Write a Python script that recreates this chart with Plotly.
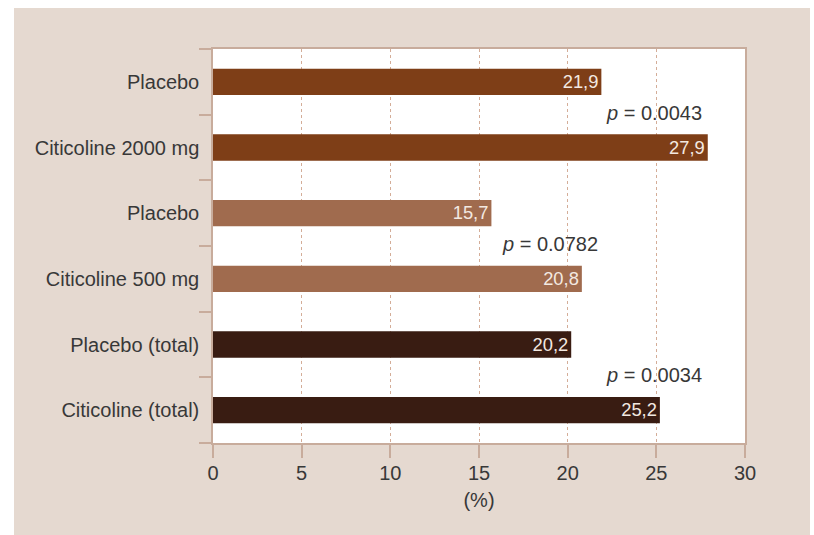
import plotly.graph_objects as go

# Responder rates (%) per treatment arm
labels = ["Placebo", "Citicoline 2000 mg", "Placebo", "Citicoline 500 mg",
          "Placebo (total)", "Citicoline (total)"]
values = [21.9, 27.9, 15.7, 20.8, 20.2, 25.2]
bar_colors = ["#7e3e17", "#7e3e17", "#a06b4e", "#a06b4e", "#391c12", "#391c12"]

# p-values between each pair of arms
p_values = ["0.0043", "0.0782", "0.0034"]
p_x = [24.85, 19.0, 24.85]

x_ticks = [0, 5, 10, 15, 20, 25, 30]

BEIGE = "#e5d9d0"
AXIS = "#c8ac9c"
TEXT = "#383838"
FONT = "Liberation Sans"
FS = 20

positions = list(range(len(labels)))
bar_text = [f"{v:.1f}".replace(".", ",") for v in values]

fig = go.Figure()
fig.add_trace(go.Bar(
    x=values, y=positions, orientation="h", width=0.4,
    marker=dict(color=bar_colors, line=dict(width=0)),
    text=bar_text, textposition="inside", insidetextanchor="end",
    textfont=dict(family=FONT, size=19, color="#f3e9e1"),
    cliponaxis=False, hoverinfo="skip", showlegend=False,
))
# invisible trace that carries the boundary ticks on the overlaid axis
fig.add_trace(go.Scatter(x=[None], y=[None], yaxis="y2", showlegend=False,
                         hoverinfo="skip"))

for i, (p, px) in enumerate(zip(p_values, p_x)):
    fig.add_annotation(
        x=px, y=2 * i + 0.5, xref="x", yref="y", yshift=2,
        text=f"<i>p</i> = {p}", showarrow=False, xanchor="center",
        font=dict(family=FONT, size=FS, color=TEXT),
    )

# beige panel with the white plotting area on top of it
L, R, T, B = 213, 69, 49, 92
W, H = 814 - L - R, 535 - T - B
def px_x(v):
    return (v - L) / W
def px_y(v):
    return (535 - B - v) / H

fig.add_shape(type="rect", xref="paper", yref="paper", layer="below",
              x0=px_x(14), x1=px_x(810), y0=px_y(535), y1=px_y(8),
              fillcolor=BEIGE, line=dict(width=0))
fig.add_shape(type="rect", xref="paper", yref="paper", layer="below",
              x0=0, x1=1, y0=0, y1=1, fillcolor="white", line=dict(width=0))

fig.update_layout(
    width=814, height=535,
    margin=dict(l=L, r=R, t=T, b=B, pad=0),
    paper_bgcolor="white", plot_bgcolor="white",
    font=dict(family=FONT, size=FS, color=TEXT),
    bargap=0.6,
    xaxis=dict(
        range=[0, 30], tickvals=x_ticks, ticks="outside", ticklen=13,
        tickcolor=AXIS, tickwidth=1.5, showline=True, linecolor=AXIS,
        linewidth=1.5, mirror=True, showgrid=True, gridcolor="#d4ad98",
        griddash="3px,3px", gridwidth=1, zeroline=False,
        ticklabelstandoff=-2,
        tickfont=dict(family=FONT, size=FS, color=TEXT),
        title=dict(text="(%)", standoff=10,
                   font=dict(family=FONT, size=FS, color=TEXT)),
    ),
    yaxis=dict(
        range=[5.5, -0.5], tickvals=positions, ticktext=labels, ticks="",
        showline=True, linecolor=AXIS, linewidth=1.5, mirror=True,
        showgrid=False, zeroline=False, ticklabelstandoff=8,
        tickfont=dict(family=FONT, size=FS, color=TEXT),
    ),
    yaxis2=dict(
        range=[5.5, -0.5], overlaying="y", side="left",
        tickvals=[p - 0.5 for p in positions] + [len(labels) - 0.5],
        ticks="outside", ticklen=13, tickcolor=AXIS, tickwidth=1.5,
        showticklabels=False, showgrid=False, zeroline=False, showline=False,
    ),
)

fig.write_html("out.html")
